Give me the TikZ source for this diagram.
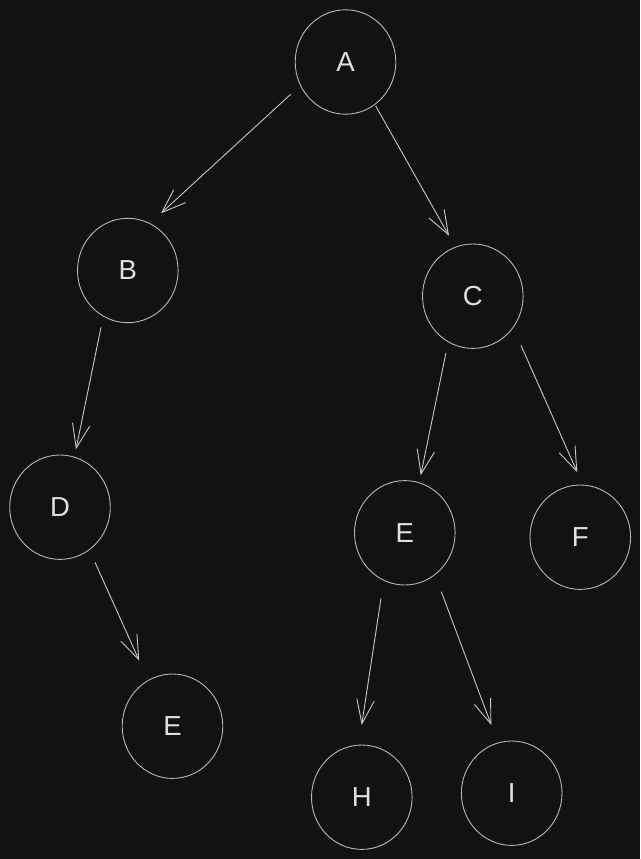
\documentclass[tikz,border=0pt]{standalone}
\usepackage{fontspec}
\setmainfont{Liberation Sans}
\usetikzlibrary{shapes.geometric,arrows.meta}
\definecolor{bgc}{HTML}{121212}
\definecolor{ringc}{HTML}{B8B8B8}
\definecolor{edgec}{HTML}{C8C8C8}
\definecolor{textc}{HTML}{E0E0E0}
\tikzset{
  treenode/.style={ellipse, draw=ringc, line width=0.9pt, minimum width=100.6pt,
    minimum height=104.4pt, inner sep=0pt, text=textc,
    font=\fontsize{27.5pt}{31pt}\selectfont},
  arr/.style={draw=edgec, line width=0.9pt,
    -{Straight Barb[length=24pt,width=17.5pt,line width=0.9pt]}}
}
\begin{document}
\begin{tikzpicture}[x=1pt,y=-1pt]
\fill[bgc] (0,0) rectangle (640,859);
\useasboundingbox (0,0) rectangle (640,859);
\node[treenode] (A) at (345.5,62) {A};
\node[treenode] (B) at (127.8,270.5) {B};
\node[treenode] (C) at (472.8,296.2) {C};
\node[treenode] (D) at (60,507.2) {D};
\node[treenode] (E2) at (172.5,726.2) {E};
\node[treenode] (E) at (404.8,532.8) {E};
\node[treenode] (F) at (580.3,537.2) {F};
\node[treenode] (H) at (361.8,797.2) {H};
\node[treenode] (I) at (511.7,793.2) {I};
\draw[arr] ([shift={(-54.8,32.3)}]A.center) -- ([shift={(33.2,-57.2)}]B.center);
\draw[arr] ([shift={(30.2,44)}]A.center) -- ([shift={(-23.8,-60.5)}]C.center);
\draw[arr] ([shift={(-26.8,56.8)}]B.center) -- ([shift={(16,-57.9)}]D.center);
\draw[arr] ([shift={(35,55.1)}]D.center) -- ([shift={(-33.2,-65.5)}]E2.center);
\draw[arr] ([shift={(-26.8,56.5)}]C.center) -- ([shift={(15.9,-57.5)}]E.center);
\draw[arr] ([shift={(48.2,49.1)}]C.center) -- ([shift={(-3,-64.9)}]F.center);
\draw[arr] ([shift={(-23.8,65.5)}]E.center) -- ([shift={(-0.1,-72.2)}]H.center);
\draw[arr] ([shift={(36.5,58.9)}]E.center) -- ([shift={(-20.4,-68.2)}]I.center);
\end{tikzpicture}
\end{document}
